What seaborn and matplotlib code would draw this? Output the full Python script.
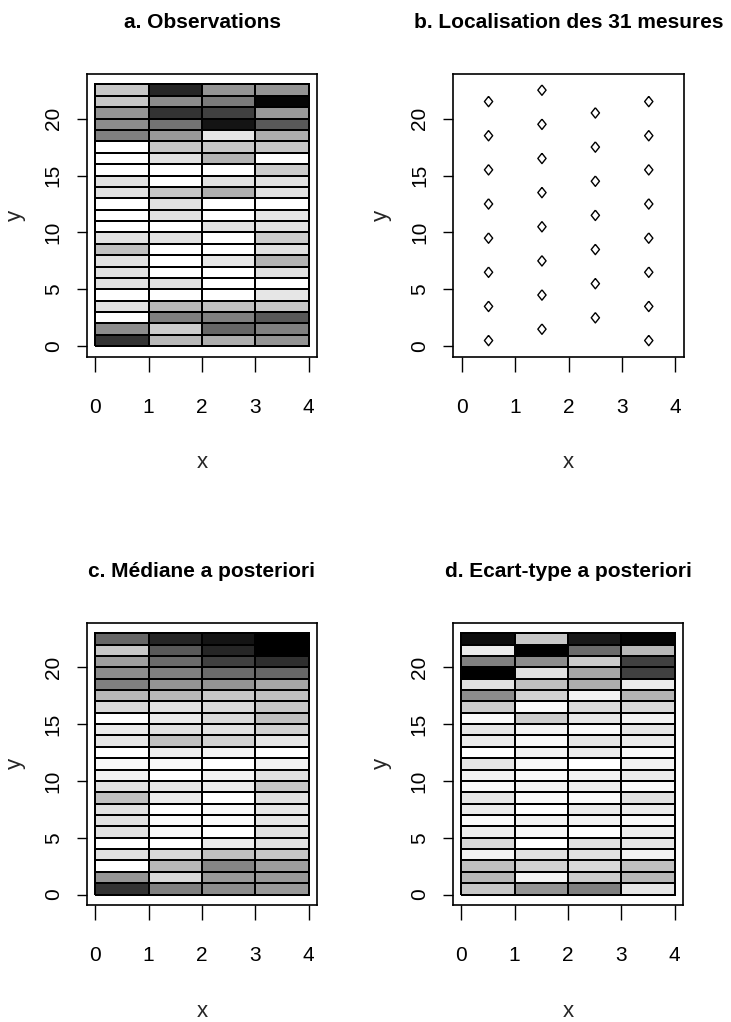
import numpy as np
import matplotlib
matplotlib.use("Agg")
import matplotlib.pyplot as plt
import seaborn as sns

# ---------------- data ----------------
titles = ["a. Observations", "b. Localisation des 31 mesures",
          "c. Médiane a posteriori", "d. Ecart-type a posteriori"]
x_ticks = [0, 1, 2, 3, 4]
y_ticks = [0, 5, 10, 15, 20]

# grey level per cell (0 = black, 1 = white); rows listed from top (y=22) to bottom (y=0)
obs_rows = [
    [0.78, 0.15, 0.58, 0.58],
    [0.78, 0.55, 0.48, 0.02],
    [0.58, 0.20, 0.25, 0.60],
    [0.55, 0.45, 0.08, 0.35],
    [0.50, 0.60, 0.90, 0.68],
    [1.00, 0.78, 0.78, 0.78],
    [1.00, 0.88, 0.70, 1.00],
    [1.00, 1.00, 1.00, 0.80],
    [0.88, 1.00, 0.88, 0.88],
    [0.88, 0.78, 0.68, 0.88],
    [1.00, 0.88, 1.00, 1.00],
    [1.00, 0.88, 1.00, 0.90],
    [1.00, 1.00, 0.88, 0.88],
    [0.88, 0.88, 1.00, 0.80],
    [0.75, 1.00, 1.00, 0.88],
    [0.88, 1.00, 0.90, 0.70],
    [0.88, 1.00, 1.00, 0.88],
    [0.88, 0.88, 1.00, 1.00],
    [1.00, 1.00, 1.00, 0.90],
    [0.88, 0.72, 0.75, 0.78],
    [1.00, 0.50, 0.50, 0.35],
    [0.55, 0.80, 0.40, 0.50],
    [0.20, 0.72, 0.68, 0.58],
]
med_rows = [
    [0.40, 0.15, 0.08, 0.00],
    [0.78, 0.35, 0.15, 0.00],
    [0.62, 0.42, 0.25, 0.18],
    [0.55, 0.50, 0.42, 0.40],
    [0.50, 0.58, 0.58, 0.65],
    [0.72, 0.72, 0.78, 0.75],
    [0.85, 0.88, 0.85, 0.78],
    [1.00, 0.92, 0.85, 0.75],
    [0.92, 0.88, 0.88, 0.82],
    [0.90, 0.75, 0.82, 0.90],
    [1.00, 0.93, 0.95, 1.00],
    [0.98, 0.98, 1.00, 0.95],
    [0.95, 1.00, 0.95, 0.88],
    [0.88, 0.90, 0.92, 0.78],
    [0.75, 0.92, 1.00, 0.88],
    [0.88, 1.00, 0.97, 0.90],
    [0.88, 0.98, 0.98, 0.90],
    [0.88, 0.97, 1.00, 0.88],
    [1.00, 1.00, 0.92, 0.88],
    [0.88, 0.85, 0.75, 0.78],
    [1.00, 0.72, 0.52, 0.62],
    [0.58, 0.85, 0.60, 0.60],
    [0.20, 0.50, 0.55, 0.60],
]
sd_rows = [
    [0.05, 0.78, 0.10, 0.02],
    [0.92, 0.00, 0.42, 0.72],
    [0.50, 0.55, 0.80, 0.25],
    [0.00, 0.88, 0.65, 0.25],
    [0.88, 0.75, 0.68, 0.92],
    [0.55, 0.82, 0.95, 0.70],
    [0.80, 0.98, 0.85, 0.85],
    [0.98, 0.80, 0.90, 0.95],
    [0.90, 0.95, 0.98, 0.90],
    [0.92, 0.97, 0.90, 0.92],
    [1.00, 0.95, 0.92, 0.98],
    [0.90, 0.97, 1.00, 0.95],
    [0.95, 0.98, 0.95, 0.92],
    [0.97, 0.95, 0.93, 0.98],
    [0.90, 0.98, 0.98, 0.88],
    [0.92, 1.00, 0.92, 0.92],
    [0.98, 0.95, 0.95, 0.97],
    [0.93, 0.97, 1.00, 0.93],
    [0.85, 1.00, 0.88, 0.90],
    [0.95, 0.88, 0.88, 0.95],
    [0.75, 0.82, 0.85, 0.75],
    [0.72, 0.95, 0.80, 0.72],
    [0.78, 0.58, 0.50, 0.90],
]

# measurement sites (31)
site_x = [0.5, 0.5, 0.5, 0.5, 0.5, 0.5, 0.5, 0.5,
          1.5, 1.5, 1.5, 1.5, 1.5, 1.5, 1.5, 1.5,
          2.5, 2.5, 2.5, 2.5, 2.5, 2.5, 2.5,
          3.5, 3.5, 3.5, 3.5, 3.5, 3.5, 3.5, 3.5]
site_y = [0.5, 3.5, 6.5, 9.5, 12.5, 15.5, 18.5, 21.5,
          1.5, 4.5, 7.5, 10.5, 13.5, 16.5, 19.5, 22.5,
          2.5, 5.5, 8.5, 11.5, 14.5, 17.5, 20.5,
          0.5, 3.5, 6.5, 9.5, 12.5, 15.5, 18.5, 21.5]

# ---------------- style ----------------
sns.set_style("white")
FAM = ["Liberation Sans", "DejaVu Sans"]
plt.rcParams["font.family"] = FAM

W, H = 731, 1022
fig = plt.figure(figsize=(W / 100, H / 100), dpi=100)

def axes_px(left, top, right, bottom):
    return fig.add_axes([left / W, 1 - bottom / H, (right - left) / W, (bottom - top) / H])

ax_a = axes_px(86.7, 74, 317.3, 356.7)
ax_b = axes_px(453.3, 74, 684.0, 356.7)
ax_c = axes_px(86.7, 622.7, 317.3, 905.0)
ax_d = axes_px(452.7, 622.7, 683.3, 905.0)

XLIM = (-0.16, 4.16)
YLIM = (-0.92, 23.92)


def style_axes(ax, title):
    ax.set_xlim(*XLIM)
    ax.set_ylim(*YLIM)
    ax.set_xticks(x_ticks)
    ax.set_xticklabels([str(v) for v in x_ticks])
    ax.set_yticks(y_ticks)
    ax.set_yticklabels([str(v) for v in y_ticks], rotation=90, va="center")
    ax.tick_params(axis="x", bottom=True, length=10.8, width=1.0, pad=19,
                   labelsize=15, colors="black", direction="out")
    ax.tick_params(axis="y", left=True, length=7.2, width=1.0, pad=10,
                   labelsize=15, colors="black", direction="out")
    for s in ax.spines.values():
        s.set_visible(True)
        s.set_color("black")
        s.set_linewidth(1.2)
    ax.set_xlabel("x", fontsize=16)
    ax.set_ylabel("y", fontsize=16)
    ax.xaxis.set_label_coords(0.5, -0.376)
    ax.xaxis.label.set_va("center")
    ax.yaxis.set_label_coords(-0.311, 0.5)
    ax.yaxis.label.set_va("center")
    ax.set_title(title, fontsize=15, fontweight="bold", pad=33, color="black")


def draw_grid(ax, rows, title):
    arr = np.flipud(np.array(rows))  # row 0 -> y in [0,1]
    sns.heatmap(arr, ax=ax, cmap="gray", vmin=0, vmax=1, cbar=False,
                linewidths=1.3, linecolor="black",
                xticklabels=False, yticklabels=False)
    style_axes(ax, title)


draw_grid(ax_a, obs_rows, titles[0])
draw_grid(ax_c, med_rows, titles[2])
draw_grid(ax_d, sd_rows, titles[3])

diamond = [(0, 1), (0.8, 0), (0, -1), (-0.8, 0), (0, 1)]
sns.scatterplot(x=site_x, y=site_y, ax=ax_b, marker=diamond, s=55,
                facecolor="none", edgecolor="black", linewidth=1.0)
style_axes(ax_b, titles[1])

fig.savefig("out.png", dpi=100, facecolor="white")
